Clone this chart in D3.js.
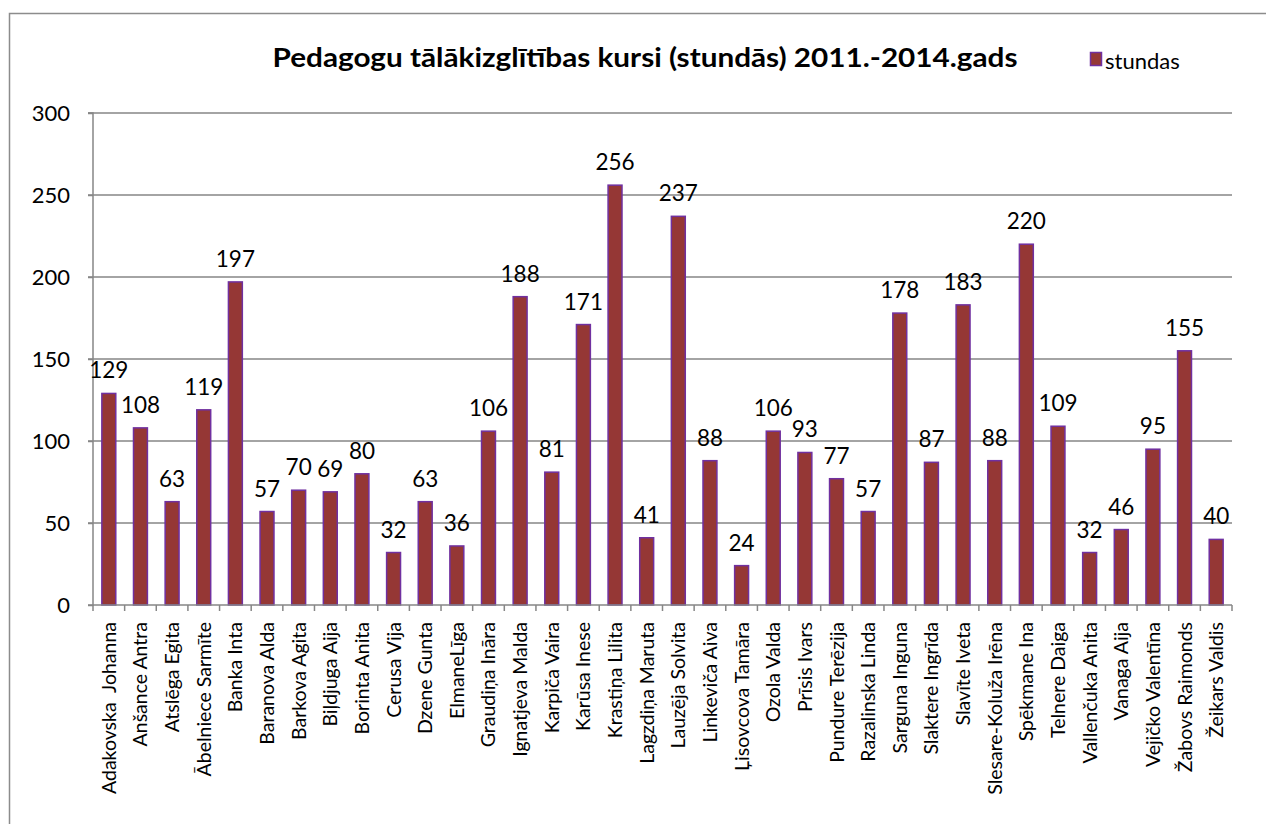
<!DOCTYPE html>
<html><head><meta charset="utf-8">
<script src="https://cdn.jsdelivr.net/npm/d3@7/dist/d3.min.js"></script>
<style>
html,body{margin:0;padding:0;background:#fff;}
svg{display:block;font-family:Lato, "Open Sans", sans-serif;}
</style></head>
<body>
<svg id="chart" width="1266" height="824"></svg>
<script>
const categories = ["Adakovska  Johanna","Anšance Antra","Atslēga Egita","Ābelniece Sarmīte","Banka Inta","Baranova Alda","Barkova Agita","Biļdjuga Aija","Borinta Anita","Cerusa Vija","Dzene Gunta","ElmaneLīga","Graudiņa Ināra","Ignatjeva Malda","Karpiča Vaira","Karūsa Inese","Krastiņa Lilita","Lagzdiņa Maruta","Lauzēja Solvita","Linkeviča Aiva","Ļisovcova Tamāra","Ozola Valda","Prīsis Ivars","Pundure Terēzija","Razalinska Linda","Sarguna Inguna","Slaktere Ingrīda","Slavīte Iveta","Slesare-Koluža Irēna","Spēkmane Ina","Telnere Daiga","Vallenčuka Anita","Vanaga Aija","Vejičko Valentīna","Žabovs Raimonds","Žeikars Valdis"];
const stundas = [129,108,63,119,197,57,70,69,80,32,63,36,106,188,81,171,256,41,237,88,24,106,93,77,57,178,87,183,88,220,109,32,46,95,155,40];
const yTicks = [0,50,100,150,200,250,300];
const title = "Pedagogu tālākizglītības kursi (stundās) 2011.-2014.gads";
const seriesName = "stundas";

const svg = d3.select("#chart");
const W = 1266, H = 824;
const m = {left:93, right:1232, top:113, bottom:605};
const grid = "#868686";
const fill = "#953735", stroke = "#7030A0";

// outer border
svg.append("rect").attr("x",9.5).attr("y",13.5).attr("width",W).attr("height",H)
  .attr("fill","none").attr("stroke","#8c8c8c").attr("stroke-width",1.5);

const x = d3.scaleBand().domain(categories).range([m.left,m.right]).paddingInner(0.56).paddingOuter(0.28);
const y = d3.scaleLinear().domain([0,300]).range([m.bottom,m.top]);

// gridlines
svg.append("g").selectAll("line").data(yTicks.filter(d=>d>0)).join("line")
  .attr("x1",m.left-5).attr("x2",m.right).attr("y1",d=>y(d)).attr("y2",d=>y(d))
  .attr("stroke",grid).attr("stroke-width",1.5);

// y axis
const yAxis = d3.axisLeft(y).tickValues(yTicks).tickSize(5).tickPadding(18);
const gy = svg.append("g").attr("transform",`translate(${m.left},0)`).call(yAxis);
gy.select(".domain").attr("stroke",grid).attr("stroke-width",1.5).attr("d",`M-5,${m.top}H0V${m.bottom}H-5`);
gy.selectAll(".tick line").attr("stroke",grid).attr("stroke-width",1.5);
gy.selectAll(".tick text").attr("font-size",22).attr("fill","#000").attr("font-family","Lato, sans-serif");

// bars
svg.append("g").selectAll("rect").data(categories).join("rect")
  .attr("x",(d)=>x(d)).attr("width",x.bandwidth())
  .attr("y",(d,i)=>y(stundas[i])).attr("height",(d,i)=>y(0)-y(stundas[i]))
  .attr("fill",fill).attr("stroke",stroke).attr("stroke-width",1.5);

// x axis
const gx = svg.append("g").attr("transform",`translate(0,${m.bottom})`);
gx.append("line").attr("x1",m.left).attr("x2",m.right).attr("stroke",grid).attr("stroke-width",1.5);
const tickPos = d3.range(categories.length+1).map(i=>m.left + i*(m.right-m.left)/categories.length);
gx.selectAll("line.t").data(tickPos).join("line").attr("class","t")
  .attr("x1",d=>d).attr("x2",d=>d).attr("y1",0).attr("y2",6).attr("stroke",grid).attr("stroke-width",1.5);
gx.selectAll("text").data(categories).join("text")
  .attr("transform",d=>`translate(${x(d)+x.bandwidth()/2+7},17) rotate(-90)`)
  .attr("text-anchor","end").attr("font-size",19.5).attr("fill","#000")
  .style("white-space","pre")
  .text(d=>d);

// value labels
svg.append("g").selectAll("text").data(categories).join("text")
  .attr("x",d=>x(d)+x.bandwidth()/2).attr("y",(d,i)=>y(stundas[i])-15)
  .attr("text-anchor","middle").attr("font-size",22.5).attr("fill","#000")
  .text((d,i)=>stundas[i]);

// title
svg.append("text").attr("x",645).attr("y",67).attr("text-anchor","middle")
  .attr("font-size",27).attr("font-weight","bold").attr("fill","#000")
  .attr("textLength",745).attr("lengthAdjust","spacingAndGlyphs").text(title);

// legend
svg.append("rect").attr("x",1090.5).attr("y",52.5).attr("width",11).attr("height",13)
  .attr("fill",fill).attr("stroke",stroke).attr("stroke-width",1.5);
svg.append("text").attr("x",1105).attr("y",69).attr("font-size",22).attr("fill","#000").text(seriesName);
</script>
</body></html>
